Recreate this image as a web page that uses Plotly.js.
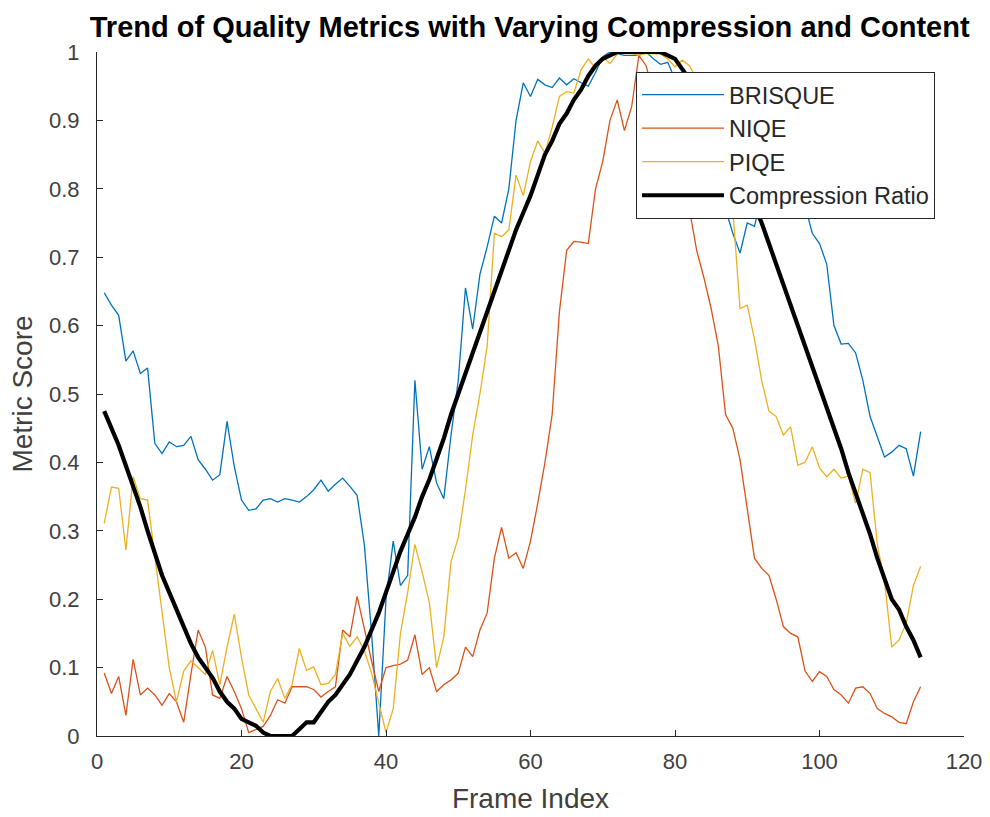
<!DOCTYPE html>
<html>
<head>
<meta charset="utf-8">
<script src="https://cdn.plot.ly/plotly-3.0.1.min.js"></script>
<style>html,body{margin:0;padding:0;background:#fff;}#chart{width:990px;height:817px;}</style>
</head>
<body>
<div id="chart"></div>
<script>
const frames = Array.from({length: 114}, (_, i) => i + 1);

const brisque = [
  0.648, 0.630, 0.615, 0.548, 0.563, 0.530, 0.538, 0.428, 0.413, 0.430,
  0.423, 0.425, 0.438, 0.404, 0.390, 0.374, 0.382, 0.460, 0.394, 0.345,
  0.330, 0.332, 0.345, 0.347, 0.342, 0.347, 0.345, 0.342, 0.350, 0.360,
  0.374, 0.358, 0.368, 0.377, 0.365, 0.352, 0.280, 0.150, 0.000, 0.200,
  0.285, 0.220, 0.235, 0.520, 0.390, 0.423, 0.370, 0.347, 0.440, 0.520,
  0.655, 0.595, 0.675, 0.715, 0.760, 0.750, 0.800, 0.900, 0.955, 0.935,
  0.960, 0.952, 0.948, 0.962, 0.952, 0.961, 0.955, 0.950, 0.970, 0.993,
  1.000, 0.997, 0.995, 0.995, 0.995, 1.000, 0.990, 0.982, 0.985, 0.960,
  0.930, 0.900, 0.870, 0.840, 0.820, 0.800, 0.770, 0.735, 0.706, 0.750,
  0.745, 0.790, 0.820, 0.840, 0.850, 0.830, 0.800, 0.775, 0.735, 0.720,
  0.690, 0.600, 0.573, 0.574, 0.560, 0.520, 0.467, 0.437, 0.408, 0.415,
  0.425, 0.420, 0.380, 0.445
];

const niqe = [
  0.092, 0.062, 0.087, 0.030, 0.112, 0.060, 0.070, 0.060, 0.045, 0.062,
  0.050, 0.020, 0.090, 0.155, 0.130, 0.060, 0.055, 0.087, 0.065, 0.040,
  0.005, 0.010, 0.014, 0.030, 0.053, 0.048, 0.072, 0.072, 0.072, 0.068,
  0.057, 0.065, 0.072, 0.155, 0.145, 0.204, 0.155, 0.110, 0.065, 0.100,
  0.103, 0.105, 0.111, 0.148, 0.090, 0.100, 0.065, 0.075, 0.082, 0.092,
  0.130, 0.116, 0.155, 0.180, 0.260, 0.305, 0.260, 0.268, 0.245, 0.285,
  0.340, 0.400, 0.470, 0.620, 0.710, 0.723, 0.722, 0.720, 0.800, 0.840,
  0.900, 0.930, 0.885, 0.920, 0.995, 0.980, 0.940, 0.900, 0.870, 0.840,
  0.800, 0.770, 0.710, 0.670, 0.625, 0.570, 0.470, 0.450, 0.404, 0.330,
  0.260, 0.245, 0.235, 0.200, 0.160, 0.150, 0.145, 0.095, 0.080, 0.094,
  0.087, 0.068, 0.060, 0.048, 0.070, 0.072, 0.062, 0.040, 0.033, 0.028,
  0.020, 0.018, 0.050, 0.072
];

const piqe = [
  0.311, 0.364, 0.362, 0.272, 0.379, 0.347, 0.345, 0.262, 0.175, 0.100,
  0.050, 0.095, 0.110, 0.100, 0.090, 0.125, 0.075, 0.130, 0.178, 0.115,
  0.060, 0.040, 0.020, 0.065, 0.084, 0.055, 0.075, 0.128, 0.096, 0.101,
  0.075, 0.077, 0.090, 0.150, 0.131, 0.145, 0.125, 0.092, 0.050, 0.005,
  0.040, 0.150, 0.210, 0.280, 0.240, 0.195, 0.100, 0.145, 0.255, 0.290,
  0.360, 0.440, 0.500, 0.570, 0.735, 0.730, 0.740, 0.820, 0.790, 0.840,
  0.870, 0.852, 0.890, 0.935, 0.942, 0.940, 0.974, 0.990, 0.976, 0.993,
  0.983, 0.997, 1.000, 0.998, 0.995, 0.998, 0.998, 0.997, 0.990, 0.978,
  0.988, 0.980, 0.960, 0.930, 0.900, 0.860, 0.810, 0.770, 0.625, 0.630,
  0.580, 0.520, 0.475, 0.467, 0.440, 0.452, 0.396, 0.400, 0.423, 0.392,
  0.379, 0.390, 0.377, 0.380, 0.340, 0.390, 0.385, 0.280, 0.226, 0.130,
  0.140, 0.165, 0.220, 0.248
];

const compression = [
  0.475, 0.450, 0.425, 0.395, 0.365, 0.335, 0.300, 0.265, 0.235, 0.210,
  0.185, 0.160, 0.135, 0.115, 0.100, 0.085, 0.065, 0.050, 0.040, 0.025,
  0.020, 0.015, 0.005, 0.000, 0.000, 0.000, 0.000, 0.010, 0.020, 0.020,
  0.035, 0.050, 0.060, 0.075, 0.090, 0.110, 0.130, 0.155, 0.180, 0.210,
  0.240, 0.270, 0.295, 0.320, 0.350, 0.375, 0.405, 0.435, 0.470, 0.500,
  0.530, 0.560, 0.590, 0.620, 0.650, 0.680, 0.710, 0.740, 0.765, 0.790,
  0.820, 0.850, 0.870, 0.895, 0.910, 0.930, 0.945, 0.965, 0.980, 0.990,
  0.995, 1.000, 1.000, 1.000, 1.000, 1.000, 1.000, 1.000, 0.995, 0.990,
  0.975, 0.960, 0.940, 0.920, 0.900, 0.875, 0.855, 0.835, 0.820, 0.795,
  0.775, 0.750, 0.720, 0.690, 0.660, 0.630, 0.600, 0.570, 0.540, 0.510,
  0.480, 0.450, 0.420, 0.385, 0.355, 0.325, 0.295, 0.260, 0.230, 0.200,
  0.185, 0.160, 0.140, 0.115
];

const seriesNames = ['BRISQUE', 'NIQE', 'PIQE', 'Compression Ratio'];
const xTicks = [0, 20, 40, 60, 80, 100, 120];
const yTicks = [0, 0.1, 0.2, 0.3, 0.4, 0.5, 0.6, 0.7, 0.8, 0.9, 1];
const yTickText = ['0', '0.1', '0.2', '0.3', '0.4', '0.5', '0.6', '0.7', '0.8', '0.9', '1'];

const colors = ['#0072BD', '#D95319', '#EDB120', '#000000'];
const widths = [1.3, 1.3, 1.3, 4.2];
const allData = [brisque, niqe, piqe, compression];

const traces = allData.map((d, i) => ({
  x: frames, y: d, type: 'scatter', mode: 'lines', name: seriesNames[i],
  line: {color: colors[i], width: widths[i]}
}));

const FONT = 'Liberation Sans, Arial, Helvetica, sans-serif';
const layout = {
  width: 990, height: 817,
  margin: {l: 97, r: 26, t: 52, b: 81},
  paper_bgcolor: '#fff', plot_bgcolor: '#fff',
  font: {family: FONT, color: '#262626'},
  title: {text: '<b>Trend of Quality Metrics with Varying Compression and Content</b>',
          font: {family: FONT, size: 29, color: '#000'}, x: 0.535, xanchor: 'center', y: 0.967, yanchor: 'middle'},
  xaxis: {range: [0, 120], tickvals: xTicks, ticktext: xTicks.map(String), ticks: 'inside', ticklen: 6,
          tickcolor: '#262626', showline: true, linecolor: '#262626', linewidth: 1, showgrid: false, zeroline: false,
          ticklabelstandoff: 6,
          tickfont: {size: 22, color: '#404040'}, title: {text: 'Frame Index', font: {size: 28, color: '#404040'}, standoff: 14}},
  yaxis: {range: [0, 1], tickvals: yTicks, ticktext: yTickText, ticks: 'inside', ticklen: 6,
          tickcolor: '#262626', showline: true, linecolor: '#262626', linewidth: 1, showgrid: false, zeroline: false,
          ticklabelstandoff: 12,
          tickfont: {size: 22, color: '#404040'}, title: {text: 'Metric Score', font: {size: 28, color: '#404040'}, standoff: 8}},
  legend: {x: 0.6217, y: 0.971, xanchor: 'left', yanchor: 'top', bgcolor: '#fff', bordercolor: '#262626', borderwidth: 1,
           font: {size: 23.5, color: '#262626'}, itemwidth: 82, tracegroupgap: 0},
  showlegend: true
};

Plotly.newPlot('chart', traces, layout, {displayModeBar: false, staticPlot: true});
</script>
</body>
</html>
